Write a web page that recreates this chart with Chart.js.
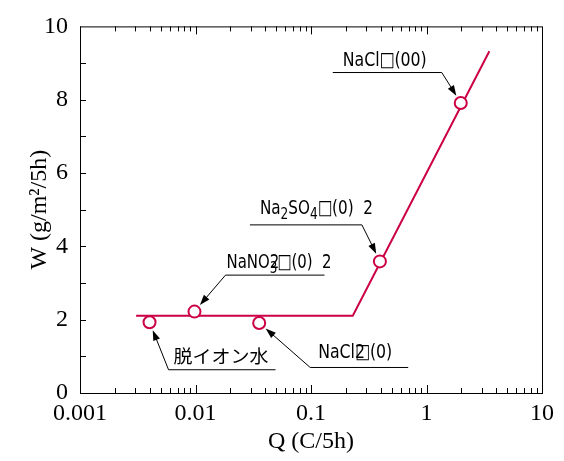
<!DOCTYPE html>
<html>
<head>
<meta charset="utf-8">
<script src="https://cdn.jsdelivr.net/npm/chart.js@4.4.1/dist/chart.umd.min.js"></script>
<style>
  html, body { margin: 0; padding: 0; background: #fff; }
</style>
</head>
<body>
<canvas id="myChart" width="564" height="461"></canvas>

<script>
// measured points: Q (C/5h) vs W (g/m2/5h)
var pointQ = [0.004, 0.0098, 0.0356, 0.395, 1.98];
var pointW = [1.93, 2.22, 1.91, 3.59, 7.91];

// fitted line
var lineQ = [0.00306, 0.23, 3.5];
var lineW = [2.11, 2.11, 9.32];

var xTicks = [0.001, 0.01, 0.1, 1, 10];
var xTickLabels = ['0.001', '0.01', '0.1', '1', '10'];
var yTicks = [0, 2, 4, 6, 8, 10];
var yTickLabels = ['0', '2', '4', '6', '8', '10'];

var red = '#cc0047';

// callouts, one per point (offsets are in pixels from the point)
var notes = [
  { idx: 0, parts: [['脱イオン水']], elbow: [19, 47], len: 107, inset: 5, raise: 6, width: 95, cjk: true },
  { idx: 1, parts: [['NaNO'], ['2', 0, 1], ['3', 1], ['□(0)  2']], elbow: [31, -37], len: 99, inset: 1, raise: 7, width: 105 },
  { idx: 2, parts: [['NaCl'], ['2', 0, 1], ['□'], ['(0)']], elbow: [51, 44], len: 98, inset: 8, raise: 9, width: 74 },
  { idx: 3, parts: [['Na'], ['2', 1], ['SO'], ['4', 1], ['□(0)  2']], elbow: [-18, -37], len: -112, inset: 10, raise: 10, width: 113 },
  { idx: 4, parts: [['NaCl'], ['□'], ['(00)']], elbow: [-19, -31], len: -109, inset: 10, raise: 6, width: 84 }
];

var serif = '"Liberation Serif", "Times New Roman", serif';
var narrow = '"Liberation Sans Narrow", "DejaVu Sans Condensed", sans-serif';

var framePlugin = {
  id: 'frame',
  beforeDatasetsDraw: function(chart) {
    var ctx = chart.ctx, a = chart.chartArea;
    var xs = chart.scales.x, ys = chart.scales.y;
    ctx.save();
    ctx.strokeStyle = '#000';
    ctx.lineWidth = 1;
    ctx.strokeRect(a.left + 0.5, a.top + 0.5, a.right - a.left, a.bottom - a.top);
    ctx.beginPath();
    for (var d = -3; d <= 0; d++) {
      for (var m = 1; m <= 9; m++) {
        var v = m * Math.pow(10, d);
        var px = Math.round(xs.getPixelForValue(v)) + 0.5;
        var len = m === 1 ? 8 : 5;
        ctx.moveTo(px, a.bottom); ctx.lineTo(px, a.bottom - len);
        ctx.moveTo(px, a.top); ctx.lineTo(px, a.top + len);
      }
    }
    for (var y = 1; y < 10; y++) {
      var py = Math.round(ys.getPixelForValue(y)) + 0.5;
      ctx.moveTo(a.left, py); ctx.lineTo(a.left + 6, py);
    }
    ctx.stroke();
    ctx.restore();
  },
  afterDatasetsDraw: function(chart) {
    var ctx = chart.ctx;
    var xs = chart.scales.x, ys = chart.scales.y;
    ctx.save();
    notes.forEach(function(n) {
      var px = xs.getPixelForValue(pointQ[n.idx]);
      var py = ys.getPixelForValue(pointW[n.idx]);
      var ex = px + n.elbow[0], ey = py + n.elbow[1];
      var ux = ex + n.len;
      // leader line
      var dx = ex - px, dy = ey - py, dist = Math.sqrt(dx * dx + dy * dy);
      var tx = px + dx / dist * 8.5, ty = py + dy / dist * 8.5;
      ctx.strokeStyle = '#000';
      ctx.fillStyle = '#000';
      ctx.lineWidth = 1;
      ctx.beginPath();
      ctx.moveTo(ux, ey + 0.5);
      ctx.lineTo(ex, ey + 0.5);
      ctx.lineTo(tx + dx / dist * 8, ty + dy / dist * 8);
      ctx.stroke();
      // arrow head
      var ang = Math.atan2(dy, dx);
      ctx.beginPath();
      ctx.moveTo(tx, ty);
      ctx.lineTo(tx + Math.cos(ang + 0.33) * 11, ty + Math.sin(ang + 0.33) * 11);
      ctx.lineTo(tx + Math.cos(ang - 0.33) * 11, ty + Math.sin(ang - 0.33) * 11);
      ctx.closePath();
      ctx.fill();
      // label text
      var size = n.cjk ? 18 : 20;
      var main = size + 'px ' + (n.cjk ? '"Noto Sans CJK JP", sans-serif' : narrow);
      var sub = Math.round(size * 0.78) + 'px ' + narrow;
      var natural = 0;
      n.parts.forEach(function(p) {
        ctx.font = p[1] ? sub : main;
        if (!p[2]) natural += ctx.measureText(p[0]).width;
      });
      var sx = n.width / natural;
      var left = Math.min(ex, ux) + n.inset;
      ctx.translate(left, ey - n.raise);
      ctx.scale(sx, 1);
      ctx.textBaseline = 'alphabetic';
      var cx = 0;
      n.parts.forEach(function(p) {
        ctx.font = p[1] ? sub : main;
        ctx.fillText(p[0], cx, p[1] ? 5 : 0);
        if (!p[2]) cx += ctx.measureText(p[0]).width;
      });
      ctx.setTransform(1, 0, 0, 1, 0, 0);
    });
    ctx.restore();
  }
};

new Chart(document.getElementById('myChart'), {
  type: 'scatter',
  data: {
    datasets: [{
      label: 'points',
      data: pointQ.map(function(q, i) { return { x: q, y: pointW[i] }; }),
      pointRadius: 6,
      pointBorderWidth: 2,
      pointBackgroundColor: '#fff',
      pointBorderColor: red
    }, {
      label: 'fit',
      data: lineQ.map(function(q, i) { return { x: q, y: lineW[i] }; }),
      showLine: true,
      pointRadius: 0,
      borderColor: red,
      borderWidth: 2
    }]
  },
  options: {
    responsive: false,
    animation: false,
    layout: { padding: { top: 23, right: 22, left: 0, bottom: 0 } },
    plugins: { legend: { display: false }, tooltip: { enabled: false } },
    scales: {
      x: {
        type: 'logarithmic',
        min: 0.001,
        max: 10,
        grid: { display: false, drawTicks: false },
        border: { display: false },
        afterBuildTicks: function(scale) {
          scale.ticks = xTicks.map(function(v) { return { value: v }; });
        },
        afterFit: function(scale) { scale.height = 68; },
        ticks: {
          autoSkip: false,
          maxRotation: 0,
          padding: 6,
          color: '#000',
          font: { family: serif, size: 24 },
          callback: function(v) { return xTickLabels[xTicks.indexOf(v)]; }
        },
        title: {
          display: true,
          text: 'Q (C/5h)',
          color: '#000',
          font: { family: serif, size: 24 },
          padding: { top: 0, bottom: 5 }
        }
      },
      y: {
        min: 0,
        max: 10,
        grid: { display: false, drawTicks: false },
        border: { display: false },
        afterBuildTicks: function(scale) {
          scale.ticks = yTicks.map(function(v) { return { value: v }; });
        },
        afterFit: function(scale) { scale.width = 80; },
        ticks: {
          padding: 12,
          color: '#000',
          font: { family: serif, size: 24 },
          callback: function(v) { return yTickLabels[yTicks.indexOf(v)]; }
        },
        title: {
          display: true,
          text: 'W (g/m²/5h)',
          color: '#000',
          font: { family: serif, size: 24 },
          padding: { top: 25, bottom: 0 }
        }
      }
    }
  },
  plugins: [framePlugin]
});
</script>
</body>
</html>
